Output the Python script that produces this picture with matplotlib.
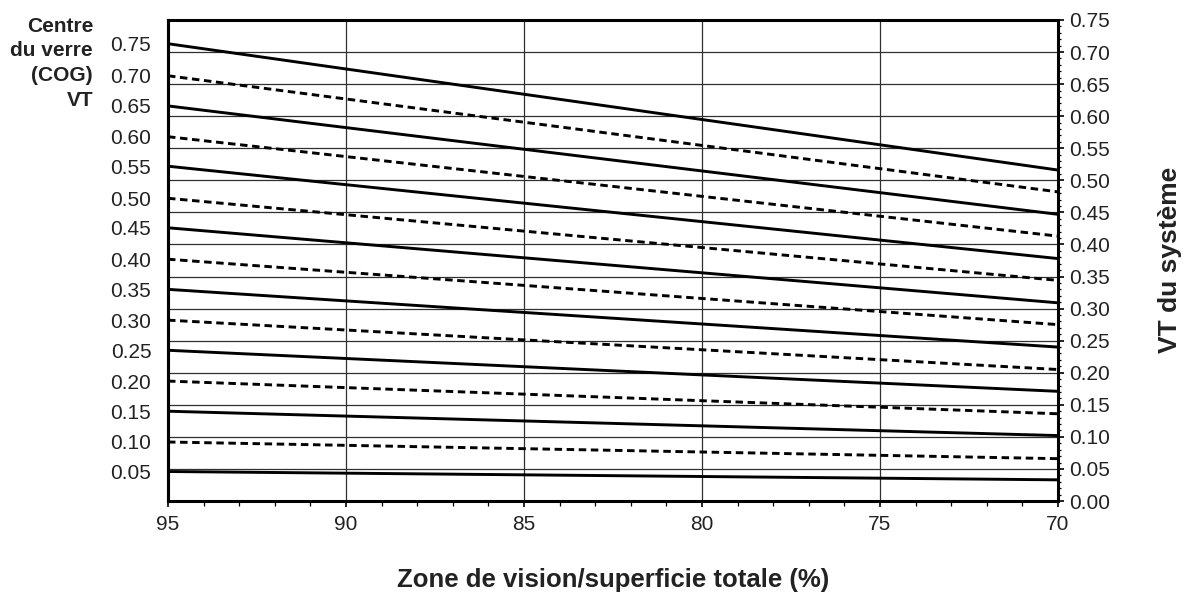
import matplotlib
matplotlib.use("Agg")
import matplotlib.pyplot as plt
from matplotlib.ticker import MultipleLocator

plt.rcParams['font.family'] = ['Liberation Sans', 'DejaVu Sans']
plt.rcParams['lines.scale_dashes'] = False

# Vision area / total area (%) at the two ends of each line
x_values = [95, 70]
# Centre-of-glass VT (labels on the left axis)
cog_vt = [0.75, 0.70, 0.65, 0.60, 0.55, 0.50, 0.45, 0.40,
          0.35, 0.30, 0.25, 0.20, 0.15, 0.10, 0.05]
# System VT read at 95 %
sys_vt_95 = [0.713, 0.663, 0.616, 0.568, 0.522, 0.472, 0.426, 0.377,
             0.330, 0.282, 0.235, 0.187, 0.140, 0.092, 0.046]
# System VT read at 70 %
sys_vt_70 = [0.516, 0.482, 0.447, 0.413, 0.378, 0.344, 0.309, 0.275,
             0.240, 0.205, 0.171, 0.136, 0.102, 0.066, 0.033]
cog_labels = ["0.75", "0.70", "0.65", "0.60", "0.55", "0.50", "0.45", "0.40",
              "0.35", "0.30", "0.25", "0.20", "0.15", "0.10", "0.05"]
x_ticks = [95, 90, 85, 80, 75, 70]
y_ticks = [0.00, 0.05, 0.10, 0.15, 0.20, 0.25, 0.30, 0.35, 0.40,
           0.45, 0.50, 0.55, 0.60, 0.65, 0.70, 0.75]

fig = plt.figure(figsize=(11.93, 5.98), dpi=100)
ax = fig.add_axes([0.1408, 0.1622, 0.7460, 0.8044])

ax.set_xlim(95, 70)
ax.set_ylim(0, 0.75)

# grid
for yv in y_ticks[1:-1]:
    ax.axhline(yv, color='#303030', lw=0.9, zorder=1)
for xv in x_ticks[1:-1]:
    ax.axvline(xv, color='#303030', lw=0.9, zorder=1)

for i, (a, b) in enumerate(zip(sys_vt_95, sys_vt_70)):
    ls = '-' if i % 2 == 0 else (0, (5.4, 3.3))
    ax.plot(x_values, [a, b], color='black', lw=2.1, linestyle=ls,
            solid_capstyle='butt', dash_capstyle='butt', zorder=3,
            clip_on=False)

for s in ax.spines.values():
    s.set_linewidth(2.2)
    s.set_zorder(4)

# right axis ticks
ax.yaxis.tick_right()
ax.set_yticks(y_ticks, labels=[f"{v:.2f}" for v in y_ticks])
ax.yaxis.set_minor_locator(MultipleLocator(0.01))
ax.tick_params(axis='y', which='major', direction='out', length=4,
               width=1.2, labelsize=15, pad=4, labelcolor='#222222')
ax.tick_params(axis='y', which='minor', direction='out', length=2.5,
               width=0.9)

# bottom axis
ax.set_xticks(x_ticks, labels=[str(v) for v in x_ticks])
ax.xaxis.set_minor_locator(MultipleLocator(1))
ax.tick_params(axis='x', which='major', direction='out', length=4,
               width=1.2, labelsize=15, pad=6, labelcolor='#222222')
ax.tick_params(axis='x', which='minor', direction='out', length=3.5,
               width=0.9)

# left axis: COG VT labels at the starting values of each line
sec = ax.secondary_yaxis('left')
sec.set_yticks(sys_vt_95, labels=cog_labels)
sec.tick_params(length=0, labelsize=15, pad=12, labelcolor='#222222')
sec.spines['left'].set_linewidth(2.2)

fig.text(0.078, 0.972, "Centre\ndu verre\n(COG)\nVT", ha='right', va='top',
         fontsize=15, fontweight='bold', linespacing=1.38, color='#222222')
fig.text(0.514, 0.03, "Zone de vision/superficie totale (%)", ha='center',
         va='center', fontsize=18.5, fontweight='bold', color='#222222')
fig.text(0.981, 0.565, "VT du système", ha='center', va='center',
         rotation=90, fontsize=19, fontweight='bold', color='#222222')

fig.savefig("out.png", dpi=100)
